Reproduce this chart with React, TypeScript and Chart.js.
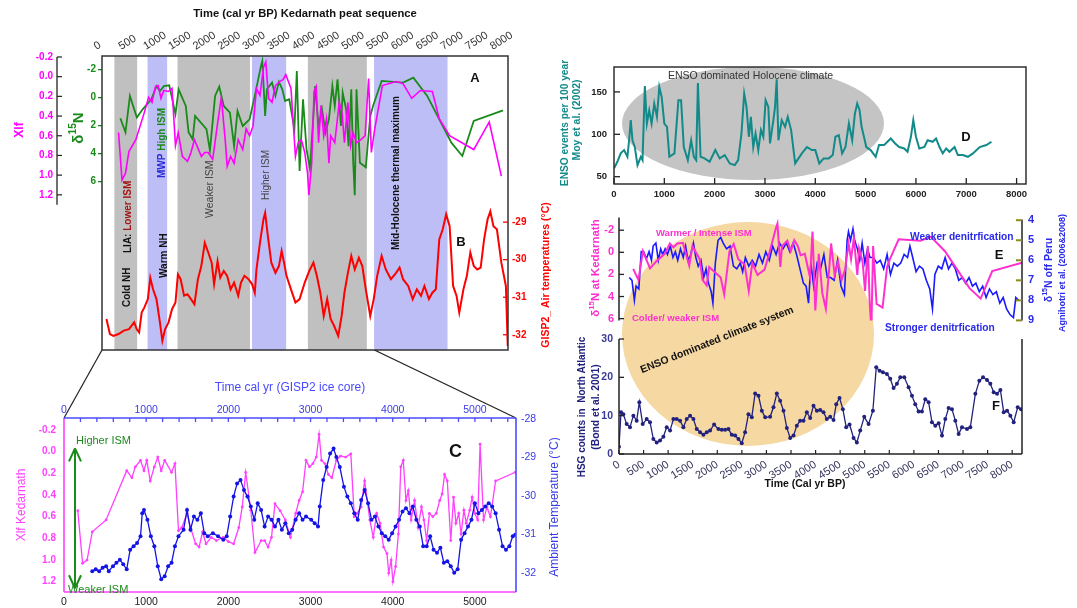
import React, { useEffect, useRef } from 'react';
import { Chart, registerables } from 'chart.js';

Chart.register(...registerables);

const FONT = '"Liberation Sans", Arial, Helvetica, sans-serif';
Chart.defaults.font.family = FONT;

// ================= DATA =================
// Panel A – Kedarnath peat δ15N (green; also pink in panel E)
const kedN_years = [370, 474, 564, 704, 821, 996, 1100, 1170, 1250, 1358, 1484, 1548, 1692, 1749, 1832, 1880, 2110, 2180, 2284, 2368, 2459, 2584, 2668, 2737, 2842, 2981, 3086, 3211, 3238, 3295, 3330, 3434, 3503, 3573, 3642, 3698, 3782, 3886, 3935, 3991, 4060, 4130, 4200, 4270, 4305, 4374, 4444, 4513, 4583, 4653, 4701, 4757, 4826, 4861, 4931, 4980, 5035, 5071, 5105, 5140, 5209, 5328, 5418, 5474, 5648, 6080, 6289, 6568, 6812, 7056, 7278, 7508, 8100];
const kedN_vals = [1.5, 2.5, -0.1, 1.45, 0.86, 0.14, -0.8, -0.45, -0.8, -0.86, 1.2, -0.57, 0.62, 2.5, 3.0, 1.33, 2.28, 3.8, -0.1, -0.76, 0.62, 1.1, 3.5, 0.98, 2.05, 1.57, -0.1, -2.24, -2.6, 1.33, -0.57, -1.05, -0.1, -1.1, -0.57, 0.26, 0.14, 2.28, -1.88, 5.26, 0.14, 3.7, 5.1, 1.33, -0.8, 2.05, 0.86, 2.52, 1.57, -0.8, 0.62, -1.28, 2.05, -0.33, 0.86, 3.5, -0.57, 4.43, 7.0, -0.57, 4.67, 5.0, 1.33, 0.62, -1.17, -1.05, -1.4, -0.1, 1.57, 3.24, 4.19, 1.69, 0.93];

// Panel A – Kedarnath Xlf (magenta)
const kedX_years = [334, 404, 474, 543, 683, 857, 940, 1010, 1080, 1135, 1191, 1247, 1344, 1414, 1484, 1539, 1623, 1727, 1797, 1867, 2006, 2075, 2145, 2236, 2319, 2410, 2493, 2528, 2598, 2668, 2751, 2842, 2911, 2981, 3051, 3120, 3190, 3260, 3308, 3364, 3434, 3503, 3587, 3656, 3712, 3817, 3907, 3963, 4026, 4095, 4151, 4179, 4235, 4283, 4325, 4374, 4423, 4478, 4534, 4583, 4618, 4701, 4792, 4847, 4896, 4966, 5021, 5071, 5140, 5230, 5314, 5384, 5440, 5509, 5662, 5940, 6080, 6255, 6429, 6672, 6812, 7021, 7508, 7821, 8066];
const kedX_vals = [0.567, 1.05, 0.98, 0.76, 0.64, 0.36, 0.21, 0.26, 0.10, 0.09, 0.22, 0.14, 0.15, 0.12, 0.70, 0.57, 0.81, 0.86, 0.77, 0.64, 0.81, 0.77, 0.77, 0.84, 0.53, 0.21, 0.67, 0.91, 0.81, 0.88, 0.64, 0.74, 0.53, 0.60, 0.50, 0.12, 0.19, -0.09, -0.15, 0.22, 0.26, 0.09, 0.05, 0.03, -0.02, 0.12, 0.81, 0.67, 0.64, 0.77, 0.98, 1.20, 0.88, 0.15, 0.10, 0.67, 0.29, 0.60, 0.43, 0.88, 0.60, 0.67, 0.26, 0.36, 0.67, 0.26, 0.70, 0.57, 0.67, 0.64, 0.60, 0.02, 0.77, 0.53, 0.09, 0.05, 0.07, 0.22, 0.14, 0.15, 0.43, 0.60, 0.74, 0.46, 1.01];

// Panel B – GISP2 air temperature
const gisB_years = [90, 160, 230, 334, 440, 545, 650, 700, 750, 801, 856, 926, 975, 1031, 1100, 1170, 1219, 1275, 1344, 1414, 1484, 1533, 1588, 1658, 1727, 1797, 1867, 1937, 2006, 2076, 2146, 2215, 2264, 2334, 2389, 2459, 2528, 2598, 2668, 2751, 2807, 2877, 2960, 3030, 3086, 3120, 3190, 3260, 3295, 3350, 3420, 3503, 3573, 3628, 3677, 3726, 3817, 3907, 3991, 4095, 4186, 4270, 4339, 4409, 4478, 4548, 4618, 4687, 4771, 4840, 4896, 4966, 5035, 5105, 5188, 5258, 5328, 5418, 5488, 5558, 5648, 5732, 5836, 5940, 6010, 6080, 6185, 6275, 6359, 6443, 6512, 6603, 6672, 6742, 6812, 6882, 6951, 7021, 7091, 7160, 7216, 7300, 7369, 7439, 7508, 7578, 7648, 7717, 7787, 7843, 7906, 7976, 8066, 8157, 8195];
const gisB_temp = [-31.58, -31.98, -32.03, -31.98, -31.89, -31.85, -31.67, -31.85, -31.94, -31.41, -31.27, -31.05, -30.48, -30.79, -31.05, -31.67, -32.16, -31.85, -31.67, -31.32, -31.14, -30.39, -30.52, -30.96, -30.92, -31.05, -31.19, -30.52, -30.17, -29.55, -29.81, -30.08, -30.65, -30.04, -30.48, -30.30, -30.43, -30.79, -30.61, -30.96, -30.61, -30.43, -30.52, -30.65, -30.88, -30.26, -29.55, -28.93, -28.75, -29.37, -30.08, -30.35, -30.17, -29.77, -30.08, -30.43, -30.79, -31.14, -31.05, -30.61, -30.30, -30.08, -30.43, -30.88, -31.50, -31.05, -31.58, -31.76, -32.03, -31.50, -30.88, -30.35, -29.90, -30.26, -29.95, -30.17, -30.79, -31.50, -31.05, -30.43, -29.90, -30.26, -30.52, -30.35, -30.21, -30.52, -30.70, -31.05, -30.79, -30.96, -30.70, -31.05, -30.88, -30.79, -29.46, -29.19, -28.79, -29.11, -30.70, -30.96, -31.41, -30.79, -30.43, -29.81, -30.17, -30.26, -30.21, -29.46, -28.93, -28.71, -29.11, -29.19, -30.08, -30.70, -32.3];

// Shaded climate intervals (cal yr BP)
const bandStart = [250, 920, 1525, 3030, 4158, 5495];
const bandEnd = [710, 1316, 2988, 3719, 5349, 6979];
const bandKind = ['gray', 'blue', 'gray', 'blue', 'gray', 'blue'];

const abYearTicks = [0, 500, 1000, 1500, 2000, 2500, 3000, 3500, 4000, 4500, 5000, 5500, 6000, 6500, 7000, 7500, 8000];
const abXlfTicks = [-0.2, 0, 0.2, 0.4, 0.6, 0.8, 1.0, 1.2];
const abD15Ticks = [-2, 0, 2, 4, 6];
const abTempTicks = [-32, -31, -30, -29];

// Panel C – Xlf Kedarnath (pink) vs GISP2 ambient temperature (blue)
const cXlf_years = [168, 226, 281, 344, 512, 763, 826, 868, 931, 973, 1007, 1049, 1099, 1141, 1183, 1225, 1309, 1350, 1393, 1434, 1497, 1539, 1602, 1644, 1686, 1728, 1791, 1854, 1938, 2000, 2064, 2127, 2169, 2211, 2273, 2324, 2399, 2441, 2483, 2525, 2567, 2630, 2693, 2756, 2819, 2861, 2903, 2945, 2987, 3029, 3070, 3104, 3133, 3175, 3217, 3259, 3314, 3364, 3427, 3490, 3532, 3565, 3616, 3658, 3721, 3763, 3804, 3846, 3888, 3930, 3951, 3981, 4002, 4035, 4069, 4098, 4128, 4161, 4190, 4224, 4266, 4308, 4350, 4379, 4413, 4446, 4488, 4530, 4572, 4601, 4631, 4664, 4706, 4740, 4769, 4803, 4832, 4866, 4895, 4937, 4966, 5000, 5034, 5063, 5105, 5147, 5189, 5252, 5491];
const cXlf_vals = [0.545, 1.03, 1.00, 0.74, 0.63, 0.175, 0.24, 0.14, 0.08, 0.175, 0.08, 0.27, 0.14, 0.05, 0.175, 0.08, 0.19, 0.11, 0.73, 0.70, 0.57, 0.70, 0.85, 0.88, 0.74, 0.85, 0.79, 0.82, 0.79, 0.83, 0.85, 0.70, 0.51, 0.19, 0.54, 0.93, 0.82, 0.82, 0.88, 0.79, 0.48, 0.545, 0.63, 0.79, 0.57, 0.45, 0.37, 0.08, 0.14, 0.11, 0.05, -0.16, 0.08, 0.11, 0.21, 0.24, 0.08, 0.04, 0.05, 0.02, 0.60, 0.57, 0.51, 0.27, 0.63, 0.79, 0.57, 0.66, 0.88, 0.94, 1.12, 1.00, 1.20, 1.06, 0.76, 0.14, 0.08, 0.45, 0.36, 0.63, 0.45, 0.70, 0.51, 0.63, 0.82, 0.57, 0.60, 0.57, 0.45, 0.39, 0.21, 0.27, 0.82, 0.42, 0.66, 0.57, 0.76, 0.54, 0.66, 0.54, 0.42, 0.57, 0.63, -0.07, 0.63, 0.51, 0.60, 0.27, 0.19];
const cTemp_years = [344, 386, 428, 470, 512, 545, 596, 638, 680, 721, 763, 805, 847, 889, 931, 952, 973, 1015, 1057, 1099, 1141, 1183, 1225, 1267, 1309, 1350, 1393, 1455, 1497, 1539, 1581, 1623, 1665, 1707, 1749, 1812, 1875, 1938, 1980, 2022, 2064, 2106, 2148, 2190, 2232, 2273, 2315, 2357, 2399, 2441, 2483, 2525, 2567, 2609, 2651, 2693, 2735, 2777, 2819, 2861, 2903, 2945, 3008, 3050, 3091, 3112, 3154, 3196, 3238, 3280, 3314, 3356, 3406, 3448, 3490, 3532, 3574, 3616, 3658, 3700, 3742, 3784, 3826, 3867, 3909, 3951, 3993, 4035, 4077, 4119, 4161, 4203, 4245, 4287, 4329, 4371, 4413, 4455, 4497, 4539, 4580, 4622, 4664, 4706, 4748, 4790, 4832, 4874, 4916, 4958, 5000, 5042, 5084, 5126, 5168, 5210, 5252, 5294, 5336, 5378, 5419, 5461, 5491];
const cTemp_vals = [-31.96, -31.91, -31.96, -31.87, -31.83, -31.96, -31.83, -31.74, -31.66, -31.78, -31.91, -31.40, -31.31, -31.23, -31.05, -30.45, -30.37, -30.62, -31.05, -31.31, -31.83, -32.17, -32.09, -31.83, -31.74, -31.31, -31.05, -30.88, -30.37, -30.88, -30.54, -30.62, -30.45, -30.97, -31.05, -30.97, -31.05, -31.14, -31.05, -30.54, -30.02, -29.68, -29.59, -29.85, -30.02, -30.28, -30.62, -30.19, -30.37, -30.80, -30.54, -30.62, -30.80, -30.62, -30.88, -30.71, -30.97, -30.88, -30.62, -30.45, -30.62, -30.54, -30.62, -30.71, -30.80, -30.28, -29.59, -29.25, -28.90, -28.77, -28.99, -29.25, -29.76, -30.02, -30.19, -30.45, -30.62, -30.11, -29.85, -30.19, -30.62, -30.54, -30.80, -30.97, -31.05, -31.14, -30.97, -30.80, -30.62, -30.41, -30.32, -30.45, -30.28, -30.62, -30.80, -31.31, -31.31, -31.05, -31.40, -31.48, -31.35, -31.74, -31.70, -31.83, -32.00, -31.91, -31.14, -30.97, -30.80, -30.62, -30.19, -30.45, -30.37, -30.28, -30.19, -30.28, -30.45, -30.88, -31.31, -31.40, -31.31, -31.05, -31.01];
const cYearTicks = [0, 1000, 2000, 3000, 4000, 5000];
const cMinorTicks = [200, 400, 600, 800, 1000, 1200, 1400, 1600, 1800, 2000, 2200, 2400, 2600, 2800, 3000, 3200, 3400, 3600, 3800, 4000, 4200, 4400, 4600, 4800, 5000, 5200, 5400];
const cXlfTicks = [-0.2, 0, 0.2, 0.4, 0.6, 0.8, 1.0, 1.2];
const cTempTicks = [-32, -31, -30, -29, -28];

// Panel D – ENSO events per 100 yr (Moy et al. 2002)
const dEnso_years = [0, 67, 133, 200, 267, 300, 333, 367, 413, 467, 533, 567, 613, 653, 700, 747, 800, 853, 900, 947, 1000, 1053, 1100, 1200, 1280, 1333, 1387, 1467, 1533, 1587, 1633, 1667, 1720, 1800, 1900, 2013, 2100, 2200, 2300, 2400, 2467, 2533, 2587, 2633, 2680, 2720, 2767, 2813, 2867, 2920, 2967, 3013, 3067, 3100, 3167, 3200, 3233, 3267, 3333, 3400, 3453, 3520, 3600, 3733, 3833, 3933, 4000, 4080, 4167, 4267, 4347, 4400, 4467, 4533, 4600, 4667, 4733, 4787, 4833, 4880, 4920, 4967, 5013, 5100, 5200, 5267, 5367, 5433, 5500, 5587, 5667, 5767, 5833, 5900, 5947, 6000, 6067, 6167, 6233, 6333, 6400, 6467, 6533, 6600, 6667, 6767, 6833, 6933, 7033, 7133, 7267, 7400, 7500];
const dEnso_vals = [59.8, 67.6, 77.5, 81.4, 73.5, 93, 116.7, 93, 85, 63.7, 73.5, 69.6, 157, 112.7, 128.4, 112.7, 136.3, 120.6, 155.9, 144, 112.7, 108.8, 73.5, 77.5, 140.2, 140.2, 85, 69.6, 93, 73.5, 69.6, 160.6, 73.5, 71.6, 67.6, 81.4, 71.6, 75.5, 65.7, 63.7, 69.6, 101, 148, 132.4, 97.1, 120.6, 85, 101, 81.4, 105, 97.1, 140.2, 132.4, 89.2, 116.7, 132.4, 165, 93, 116.7, 108.8, 120.6, 105, 65.7, 77.5, 85, 81.4, 81.4, 65.7, 71.6, 71.6, 75.5, 97.1, 99, 77.5, 85, 112.7, 93, 124.5, 136.3, 128.4, 108.8, 97.1, 85, 81.4, 73.5, 87.3, 87.3, 91.2, 95.1, 89.2, 85, 83.3, 79.4, 97.1, 116.7, 97.1, 83.3, 85, 93, 91.2, 95.1, 85, 77.5, 83.3, 79.4, 85, 75.5, 75.5, 73.5, 77.5, 85, 87.3, 91.2];
const dYearTicks = [0, 1000, 2000, 3000, 4000, 5000, 6000, 7000, 8000];
const dEnsoTicks = [50, 100, 150];

// Panel E – δ15N off Peru (Agnihotri et al.)
const ePeru_years = [292, 346, 394, 428, 482, 530, 577, 631, 686, 733, 767, 821, 869, 917, 957, 1005, 1052, 1107, 1161, 1208, 1256, 1310, 1365, 1412, 1460, 1514, 1568, 1616, 1663, 1718, 1772, 1819, 1867, 1921, 1955, 2003, 2057, 2111, 2159, 2227, 2295, 2363, 2430, 2498, 2546, 2600, 2668, 2736, 2804, 2872, 2940, 3007, 3075, 3143, 3211, 3279, 3347, 3415, 3483, 3551, 3618, 3686, 3754, 3808, 3856, 3903, 3958, 4026, 4094, 4161, 4229, 4297, 4365, 4433, 4501, 4569, 4623, 4650, 4691, 4739, 4773, 4827, 4874, 4922, 4976, 5030, 5078, 5146, 5214, 5282, 5350, 5418, 5485, 5553, 5621, 5689, 5757, 5825, 5872, 5927, 5994, 6062, 6130, 6198, 6266, 6320, 6368, 6436, 6504, 6572, 6639, 6707, 6775, 6843, 6911, 6979, 7047, 7115, 7183, 7251, 7318, 7386, 7454, 7522, 7590, 7658, 7726, 7794, 7862, 7930, 7977, 8031];
const ePeru_vals = [6.86, 7.0, 8.0, 7.29, 7.43, 5.57, 5.57, 5.93, 5.57, 6.0, 5.29, 5.14, 6.0, 5.43, 5.71, 5.43, 5.71, 5.29, 5.86, 5.57, 6.0, 5.43, 5.86, 5.29, 6.0, 5.71, 5.14, 5.86, 6.29, 6.0, 6.86, 6.43, 7.14, 7.57, 8.14, 6.14, 5.0, 4.86, 5.14, 5.43, 5.29, 6.29, 6.43, 6.14, 6.57, 5.86, 6.29, 6.0, 6.29, 5.71, 6.14, 5.57, 6.0, 5.29, 5.71, 5.14, 5.43, 5.14, 5.57, 5.14, 5.71, 6.43, 7.14, 7.29, 8.14, 6.14, 7.29, 6.14, 6.43, 5.71, 6.86, 6.86, 7.0, 6.0, 7.29, 7.71, 5.0, 4.57, 5.0, 4.43, 5.0, 5.43, 6.0, 5.14, 6.14, 5.43, 5.86, 5.86, 6.14, 6.0, 6.43, 5.71, 6.71, 6.14, 6.29, 6.14, 5.71, 5.86, 5.29, 5.86, 6.57, 6.29, 6.43, 7.0, 7.43, 8.43, 6.71, 6.29, 6.43, 5.86, 6.43, 6.14, 6.43, 7.0, 6.86, 7.14, 6.86, 7.29, 7.14, 7.57, 7.29, 7.86, 7.43, 7.71, 7.57, 8.14, 7.86, 8.43, 8.71, 8.86, 7.86, 8.0];
const eLeftTicks = [-2, 0, 2, 4, 6];
const eRightTicks = [4, 5, 6, 7, 8, 9];

// Panel F – HSG counts in North Atlantic (Bond et al. 2001)
const fBond_years = [0, 41, 88, 156, 224, 292, 360, 414, 482, 563, 631, 699, 767, 835, 903, 971, 1039, 1107, 1174, 1242, 1310, 1378, 1446, 1514, 1582, 1650, 1718, 1785, 1853, 1935, 2023, 2091, 2159, 2227, 2295, 2363, 2430, 2498, 2566, 2634, 2702, 2770, 2838, 2906, 2974, 3075, 3143, 3211, 3279, 3347, 3415, 3483, 3551, 3618, 3686, 3754, 3822, 3890, 3958, 4026, 4094, 4161, 4229, 4297, 4365, 4420, 4487, 4555, 4623, 4691, 4773, 4840, 4908, 4990, 5078, 5166, 5234, 5302, 5370, 5451, 5519, 5587, 5655, 5723, 5804, 5893, 5961, 6028, 6096, 6164, 6232, 6300, 6368, 6436, 6504, 6572, 6639, 6707, 6775, 6843, 6911, 6979, 7081, 7149, 7251, 7332, 7407, 7488, 7556, 7624, 7692, 7760, 7828, 7896, 7963, 8031, 8113, 8181];
const fBond_vals = [1.9, 10.9, 10.4, 7.8, 7.0, 10.0, 8.7, 13.5, 7.8, 9.1, 8.3, 3.9, 3.0, 3.5, 4.5, 7.0, 6.1, 9.1, 9.1, 8.7, 7.0, 9.1, 10.0, 9.1, 6.5, 5.7, 5.0, 5.7, 6.1, 7.7, 6.5, 6.3, 6.3, 6.5, 5.0, 4.8, 3.9, 2.8, 5.7, 10.4, 9.6, 15.8, 15.2, 11.3, 9.6, 9.7, 12.2, 15.8, 13.9, 11.3, 6.8, 4.2, 4.8, 7.4, 8.7, 8.7, 10.9, 9.4, 12.6, 11.3, 11.5, 10.9, 9.1, 9.7, 8.9, 13.0, 14.6, 11.7, 7.0, 7.7, 4.2, 3.0, 6.1, 9.7, 7.8, 11.3, 22.6, 21.7, 21.3, 20.9, 19.6, 17.2, 18.3, 20.0, 20.0, 17.4, 15.2, 13.0, 11.1, 11.1, 14.3, 13.5, 8.3, 7.4, 8.0, 4.8, 9.1, 12.0, 11.7, 8.7, 5.2, 7.0, 6.5, 7.0, 15.7, 19.1, 20.0, 19.3, 18.3, 16.1, 15.7, 16.7, 10.9, 11.3, 10.0, 8.3, 12.2, 11.7];
const fYearTicks = [0, 500, 1000, 1500, 2000, 2500, 3000, 3500, 4000, 4500, 5000, 5500, 6000, 6500, 7000, 7500, 8000];
const fHsgTicks = [0, 10, 20, 30];

// ================= STYLE CONSTANTS =================
const GRAY = 'rgb(192,192,192)';
const LAV = 'rgb(190,190,246)';
const GREEN = '#1a8a1a';
const MAG = '#ff00ff';
const RED = '#ff0000';
const CPINK = '#ff40ff';
const CBLUE = '#1414e6';
const TEAL = '#138a8a';
const EPINK = '#ff30d0';
const EBLUE = '#1a1aff';
const NAVY = '#22227e';
const TAN = 'rgb(246,216,162)';
const UP = -Math.PI / 2;

const reg: any = {};

// ================= HELPERS =================
const pts = (xs: number[], ys: number[]) => xs.map((x, i) => ({ x, y: ys[i] }));
const ticksAt = (vals: number[]) => (scale: any) => { scale.ticks = vals.map((v) => ({ value: v })); };
const fixSize = (n: number) => (scale: any) => { if (scale.isHorizontal()) scale.height = n; else scale.width = n; };

type Seg = { t: string; c: string; sup?: boolean };

function rich(ctx: any, segs: Seg[], x: number, y: number, rot: number, align: string, size: number, weight = 'bold') {
  ctx.save();
  ctx.translate(x, y);
  ctx.rotate(rot);
  ctx.textBaseline = 'middle';
  ctx.textAlign = 'left';
  const f = (s: Seg) => `${weight} ${s.sup ? size * 0.68 : size}px ${FONT}`;
  let w = 0;
  for (const s of segs) { ctx.font = f(s); w += ctx.measureText(s.t).width; }
  let cx = align === 'center' ? -w / 2 : 0;
  for (const s of segs) {
    ctx.font = f(s);
    ctx.fillStyle = s.c;
    ctx.fillText(s.t, cx, s.sup ? -size * 0.38 : 0);
    cx += ctx.measureText(s.t).width;
  }
  ctx.restore();
}

function line(ctx: any, x1: number, y1: number, x2: number, y2: number, color: string, w: number) {
  ctx.strokeStyle = color;
  ctx.lineWidth = w;
  ctx.beginPath();
  ctx.moveTo(x1, y1);
  ctx.lineTo(x2, y2);
  ctx.stroke();
}

function baseOpts(padding: any) {
  return {
    responsive: false,
    maintainAspectRatio: false,
    animation: false,
    events: [],
    devicePixelRatio: 1,
    layout: { padding },
    plugins: { legend: { display: false }, tooltip: { enabled: false }, title: { display: false } },
    elements: { point: { radius: 0 }, line: { tension: 0 } },
  };
}

function lin(o: any) {
  return {
    type: 'linear',
    grid: { display: false, drawTicks: false },
    border: { display: false },
    title: { display: false },
    ...o,
    ticks: { autoSkip: false, ...(o.ticks || {}) },
  };
}

// ================= PANEL A/B =================
const abPlugin = {
  id: 'abDeco',
  beforeDatasetsDraw(chart: any) {
    const { ctx, chartArea: a } = chart;
    const sx = chart.scales.x;
    ctx.save();
    for (let i = 0; i < bandStart.length; i++) {
      const x0 = sx.getPixelForValue(bandStart[i]);
      const x1 = sx.getPixelForValue(bandEnd[i]);
      ctx.fillStyle = bandKind[i] === 'gray' ? GRAY : LAV;
      ctx.fillRect(x0, a.top, x1 - x0, a.bottom - a.top);
    }
    rich(ctx, [{ t: 'Cold NH', c: '#111' }], 127, 307, UP, 'start', 10);
    rich(ctx, [{ t: 'LIA: ', c: '#111' }, { t: 'Lower ISM', c: '#a31515' }], 128, 253, UP, 'start', 10);
    rich(ctx, [{ t: 'MWP ', c: '#2b2bd9' }, { t: 'High ISM', c: GREEN }], 162, 178, UP, 'start', 10);
    rich(ctx, [{ t: 'Warm NH', c: '#111' }], 164, 278, UP, 'start', 10);
    rich(ctx, [{ t: 'Weaker ISM', c: '#444' }], 210, 218, UP, 'start', 10.5, 'normal');
    rich(ctx, [{ t: 'Higher ISM', c: '#444' }], 266, 200, UP, 'start', 10, 'normal');
    rich(ctx, [{ t: 'Mid-Holocene thermal maximum', c: '#111' }], 396, 250, UP, 'start', 10);
    ctx.restore();
  },
  afterDraw(chart: any) {
    const { ctx, chartArea: a, scales } = chart;
    ctx.save();
    ctx.strokeStyle = '#333';
    ctx.lineWidth = 1.5;
    ctx.strokeRect(a.left, a.top, a.right - a.left, a.bottom - a.top);
    // Xlf axis (partial)
    const yX = scales.yX;
    const lx = yX.right;
    line(ctx, lx, yX.getPixelForValue(-0.2), lx, yX.getPixelForValue(1.3), '#222', 1.3);
    for (const v of abXlfTicks) { const y = yX.getPixelForValue(v); line(ctx, lx, y, lx + 5, y, '#222', 1.2); }
    // red inward ticks
    const yT = scales.yT;
    for (const v of abTempTicks) { const y = yT.getPixelForValue(v); line(ctx, a.right - 5, y, a.right, y, RED, 1.3); }
    // titles
    ctx.fillStyle = '#111';
    ctx.font = `bold 11.2px ${FONT}`;
    ctx.textAlign = 'center';
    ctx.textBaseline = 'middle';
    ctx.fillText('Time (cal yr BP) Kedarnath peat sequence', (a.left + a.right) / 2, 14);
    rich(ctx, [{ t: 'Xlf', c: MAG }], 20, 130, UP, 'center', 12);
    rich(ctx, [{ t: '\u03b4', c: GREEN }, { t: '15', c: GREEN, sup: true }, { t: 'N', c: GREEN }], 79, 128, UP, 'center', 15);
    rich(ctx, [{ t: 'GISP2_ Air temperatures (\u00b0C)', c: RED }], 546, 275, UP, 'center', 10.5);
    ctx.fillStyle = '#111';
    ctx.font = `bold 13px ${FONT}`;
    ctx.fillText('A', 475, 78);
    ctx.fillText('B', 461, 242);
    ctx.restore();
  },
};

function abConfig() {
  return {
    type: 'line',
    data: {
      datasets: [
        { data: pts(kedX_years, kedX_vals), yAxisID: 'yX', borderColor: MAG, borderWidth: 1.6, pointRadius: 0 },
        { data: pts(kedN_years, kedN_vals), yAxisID: 'yN', borderColor: GREEN, borderWidth: 1.8, pointRadius: 0 },
        { data: pts(gisB_years, gisB_temp), yAxisID: 'yT', borderColor: RED, borderWidth: 2, pointRadius: 0 },
      ],
    },
    options: {
      ...baseOpts({ left: 0, right: 0, top: 0, bottom: 9 }),
      scales: {
        x: lin({
          position: 'top', min: 0, max: 8200, afterBuildTicks: ticksAt(abYearTicks), afterFit: fixSize(56),
          ticks: { minRotation: 32, maxRotation: 32, color: '#333', font: { size: 11 }, padding: 3, callback: (v: any) => String(v) },
        }),
        yX: lin({
          position: 'left', weight: 2, reverse: true, min: -0.21, max: 2.776, afterBuildTicks: ticksAt(abXlfTicks), afterFit: fixSize(57),
          ticks: { color: MAG, font: { size: 10, weight: 'bold' }, padding: 4, callback: (v: any) => Number(v).toFixed(1) },
        }),
        yN: lin({
          position: 'left', weight: 1, reverse: true, min: -2.95, max: 18.05, afterBuildTicks: ticksAt(abD15Ticks), afterFit: fixSize(45),
          grid: { display: true, drawOnChartArea: false, drawTicks: true, tickLength: 4, color: GREEN, lineWidth: 1.3 },
          ticks: { color: GREEN, font: { size: 10, weight: 'bold' }, padding: 2, callback: (v: any) => String(v) },
        }),
        yT: lin({
          position: 'right', min: -32.406, max: -24.575, afterBuildTicks: ticksAt(abTempTicks), afterFit: fixSize(52),
          ticks: { color: RED, font: { size: 10, weight: 'bold' }, padding: 4, callback: (v: any) => String(v) },
        }),
      },
    },
    plugins: [abPlugin],
  };
}

// ================= PANEL C =================
const C_TOP = 350;
const cPlugin = {
  id: 'cDeco',
  afterDraw(chart: any) {
    const { ctx, chartArea: a, scales } = chart;
    ctx.save();
    // connectors from the A/B time axis
    const ab = reg.ab;
    const yb = ab ? ab.chartArea.bottom - C_TOP : 1;
    const x0 = ab ? ab.scales.x.getPixelForValue(0) : 102;
    const x1 = ab ? ab.scales.x.getPixelForValue(5500) : 374;
    line(ctx, x0, yb, a.left, a.top, '#222', 1.2);
    line(ctx, x1, yb, a.right, a.top, '#222', 1.2);
    // frame
    line(ctx, a.left, a.top, a.left, a.bottom, CPINK, 1.6);
    line(ctx, a.left, a.bottom, a.right, a.bottom, CPINK, 1.6);
    line(ctx, a.left, a.top, a.right, a.top, '#4a4aff', 1.6);
    line(ctx, a.right, a.top, a.right, a.bottom, '#4a4aff', 1.6);
    const sx = scales.x2;
    for (const v of cMinorTicks) { const x = sx.getPixelForValue(v); line(ctx, x, a.top, x, a.top + 4, '#4a4aff', 1.3); }
    // double arrow
    const yL = scales.yL;
    const ax = a.left + 11;
    const ya = yL.getPixelForValue(-0.03);
    const yz = yL.getPixelForValue(1.26);
    line(ctx, ax, ya, ax, yz, GREEN, 2);
    line(ctx, ax, ya, ax - 6, ya + 13, GREEN, 2);
    line(ctx, ax, ya, ax + 6, ya + 13, GREEN, 2);
    line(ctx, ax, yz, ax - 6, yz - 13, GREEN, 2);
    line(ctx, ax, yz, ax + 6, yz - 13, GREEN, 2);
    ctx.font = `11px ${FONT}`;
    ctx.textBaseline = 'middle';
    ctx.textAlign = 'left';
    ctx.fillStyle = GREEN;
    ctx.fillText('Higher ISM', ax + 1, ya - 7);
    ctx.fillText('Weaker ISM', ax - 7, yz + 2);
    ctx.fillStyle = '#111';
    ctx.font = `bold 18px ${FONT}`;
    ctx.fillText('C', 449, 452 - C_TOP);
    // titles
    ctx.fillStyle = '#4a4aff';
    ctx.font = `12px ${FONT}`;
    ctx.textAlign = 'center';
    ctx.fillText('Time cal yr (GISP2 ice core)', (a.left + a.right) / 2, 388 - C_TOP);
    rich(ctx, [{ t: 'Xlf Kedarnath', c: CPINK }], 22, 505 - C_TOP, UP, 'center', 12, 'normal');
    rich(ctx, [{ t: 'Ambient Temperature (\u00b0C)', c: '#3a3ae6' }], 555, 507 - C_TOP, UP, 'center', 12, 'normal');
    ctx.restore();
  },
};

function cConfig() {
  return {
    type: 'line',
    data: {
      datasets: [
        { data: pts(cTemp_years, cTemp_vals), yAxisID: 'yR', borderColor: CBLUE, borderWidth: 1.3, pointRadius: 2, pointBackgroundColor: CBLUE, pointBorderWidth: 0 },
        { data: pts(cXlf_years, cXlf_vals), yAxisID: 'yL', borderColor: CPINK, borderWidth: 1.3, pointRadius: 1.4, pointBackgroundColor: CPINK, pointBorderWidth: 0 },
      ],
    },
    options: {
      ...baseOpts({ left: 0, right: 0, top: 0, bottom: 0 }),
      scales: {
        x: lin({
          position: 'bottom', min: 0, max: 5500, afterBuildTicks: ticksAt(cYearTicks), afterFit: fixSize(16),
          ticks: { maxRotation: 0, minRotation: 0, color: '#222', font: { size: 10.5 }, padding: 4, callback: (v: any) => String(v) },
        }),
        x2: lin({
          position: 'top', min: 0, max: 5500, afterBuildTicks: ticksAt(cYearTicks), afterFit: fixSize(68),
          ticks: { maxRotation: 0, minRotation: 0, color: '#3a3ae6', font: { size: 10.5 }, padding: 2, callback: (v: any) => String(v) },
        }),
        yL: lin({
          position: 'left', reverse: true, min: -0.311, max: 1.295, afterBuildTicks: ticksAt(cXlfTicks), afterFit: fixSize(64),
          ticks: { color: CPINK, font: { size: 10, weight: 'bold' }, padding: 8, callback: (v: any) => Number(v).toFixed(1) },
        }),
        yR: lin({
          position: 'right', min: -32.502, max: -27.974, afterBuildTicks: ticksAt(cTempTicks), afterFit: fixSize(44),
          ticks: { color: '#3a3ae6', font: { size: 10.5 }, padding: 5, callback: (v: any) => String(v) },
        }),
      },
    },
    plugins: [cPlugin],
  };
}

// ================= PANEL D =================
const D_LEFT = 560, D_TOP = 40;
const dPlugin = {
  id: 'dDeco',
  beforeDatasetsDraw(chart: any) {
    const { ctx } = chart;
    ctx.save();
    ctx.fillStyle = '#c4c4c4';
    ctx.beginPath();
    ctx.ellipse(753 - D_LEFT, 123.5 - D_TOP, 131, 56.5, 0, 0, Math.PI * 2);
    ctx.fill();
    ctx.fillStyle = '#333';
    ctx.font = `10.5px ${FONT}`;
    ctx.textAlign = 'left';
    ctx.textBaseline = 'middle';
    ctx.fillText('ENSO dominated Holocene climate', 668 - D_LEFT, 76 - D_TOP);
    ctx.restore();
  },
  afterDraw(chart: any) {
    const { ctx, chartArea: a, scales } = chart;
    ctx.save();
    ctx.strokeStyle = '#222';
    ctx.lineWidth = 1.4;
    ctx.strokeRect(a.left, a.top, a.right - a.left, a.bottom - a.top);
    for (const v of dYearTicks) { const x = scales.x.getPixelForValue(v); line(ctx, x, a.bottom, x, a.bottom - 6, '#222', 1.3); }
    for (const v of dEnsoTicks) { const y = scales.y.getPixelForValue(v); line(ctx, a.left, y, a.left + 6, y, '#222', 1.3); }
    ctx.fillStyle = '#111';
    ctx.font = `bold 13px ${FONT}`;
    ctx.textAlign = 'center';
    ctx.textBaseline = 'middle';
    ctx.fillText('D', 966 - D_LEFT, 137 - D_TOP);
    rich(ctx, [{ t: 'ENSO events per 100 year', c: TEAL }], 565 - D_LEFT, 123 - D_TOP, UP, 'center', 10.2);
    rich(ctx, [{ t: 'Moy et al. (2002)', c: TEAL }], 577 - D_LEFT, 120 - D_TOP, UP, 'center', 10.5);
    ctx.restore();
  },
};

function dConfig() {
  return {
    type: 'line',
    data: { datasets: [{ data: pts(dEnso_years, dEnso_vals), borderColor: TEAL, borderWidth: 2, pointRadius: 0 }] },
    options: {
      ...baseOpts({ left: 0, right: 51, top: 27, bottom: 0 }),
      scales: {
        x: lin({
          position: 'bottom', min: 0, max: 8187, afterBuildTicks: ticksAt(dYearTicks), afterFit: fixSize(21),
          ticks: { maxRotation: 0, minRotation: 0, color: '#222', font: { size: 9.5, weight: 'bold' }, padding: 5, callback: (v: any) => String(v) },
        }),
        y: lin({
          position: 'left', min: 41.4, max: 179.4, afterBuildTicks: ticksAt(dEnsoTicks), afterFit: fixSize(54),
          ticks: { color: '#222', font: { size: 9.5, weight: 'bold' }, padding: 7, callback: (v: any) => String(v) },
        }),
      },
    },
    plugins: [dPlugin],
  };
}

// ================= PANEL E =================
const E_LEFT = 560, E_TOP = 205;
const CIRC_X = 748, CIRC_Y = 334, CIRC_RX = 126, CIRC_RY = 112;
const ePlugin = {
  id: 'eDeco',
  beforeDraw(chart: any) {
    const { ctx } = chart;
    ctx.save();
    ctx.fillStyle = TAN;
    ctx.beginPath();
    ctx.ellipse(CIRC_X - E_LEFT, CIRC_Y - E_TOP, CIRC_RX, CIRC_RY, 0, 0, Math.PI * 2);
    ctx.fill();
    ctx.restore();
  },
  afterDraw(chart: any) {
    const { ctx, chartArea: a, scales } = chart;
    ctx.save();
    line(ctx, a.left, a.top, a.left, a.bottom, '#222', 1.5);
    line(ctx, a.right, a.top + 2, a.right, a.bottom, '#222', 1.5);
    for (const v of eLeftTicks) { const y = scales.yL.getPixelForValue(v); line(ctx, a.left, y, a.left + 5, y, '#222', 1.3); }
    for (const v of eRightTicks) { const y = scales.yR.getPixelForValue(v); line(ctx, a.right - 6, y, a.right, y, '#8c8c1e', 2); }
    ctx.textAlign = 'left';
    ctx.textBaseline = 'middle';
    ctx.fillStyle = EPINK;
    ctx.font = `bold 9.5px ${FONT}`;
    ctx.fillText('Warmer / Intense ISM', 656 - E_LEFT, 233 - E_TOP);
    ctx.fillText('Colder/ weaker ISM', 632 - E_LEFT, 318 - E_TOP);
    ctx.fillStyle = '#2a2ae8';
    ctx.font = `bold 10.2px ${FONT}`;
    ctx.fillText('Weaker denitrfication', 910 - E_LEFT, 237 - E_TOP);
    ctx.fillText('Stronger denitrfication', 885 - E_LEFT, 328 - E_TOP);
    ctx.fillStyle = '#111';
    ctx.font = `bold 13px ${FONT}`;
    ctx.textAlign = 'center';
    ctx.fillText('E', 999 - E_LEFT, 255 - E_TOP);
    rich(ctx, [{ t: '\u03b4', c: EPINK }, { t: '15', c: EPINK, sup: true }, { t: 'N at Kedarnath', c: EPINK }], 596 - E_LEFT, 268 - E_TOP, UP, 'center', 11.5);
    rich(ctx, [{ t: '\u03b4', c: '#2a2ae8' }, { t: '15', c: '#2a2ae8', sup: true }, { t: 'N off Peru', c: '#2a2ae8' }], 1049 - E_LEFT, 270 - E_TOP, UP, 'center', 10.5);
    rich(ctx, [{ t: 'Agnihotri et al. (2006&2008)', c: '#2a2ae8' }], 1063 - E_LEFT, 273 - E_TOP, UP, 'center', 9);
    ctx.restore();
  },
};

function eConfig() {
  return {
    type: 'line',
    data: {
      datasets: [
        { data: pts(kedN_years, kedN_vals), yAxisID: 'yL', borderColor: EPINK, borderWidth: 2, pointRadius: 0 },
        { data: pts(ePeru_years, ePeru_vals), yAxisID: 'yR', borderColor: EBLUE, borderWidth: 1.6, pointRadius: 0 },
      ],
    },
    options: {
      ...baseOpts({ left: 0, right: 0, top: 8, bottom: 2 }),
      scales: {
        x: { type: 'linear', display: false, min: 88, max: 8100 },
        yL: lin({
          position: 'left', reverse: true, min: -3.14, max: 6.16, afterBuildTicks: ticksAt(eLeftTicks), afterFit: fixSize(59),
          ticks: { color: EPINK, font: { size: 11, weight: 'bold' }, padding: 5, callback: (v: any) => String(v) },
        }),
        yR: lin({
          position: 'right', reverse: true, min: 3.87, max: 9.0, afterBuildTicks: ticksAt(eRightTicks), afterFit: fixSize(55),
          ticks: { color: '#2a2ae8', font: { size: 11, weight: 'bold' }, padding: 6, callback: (v: any) => String(v) },
        }),
      },
    },
    plugins: [ePlugin],
  };
}

// ================= PANEL F =================
const F_LEFT = 560, F_TOP = 300, SPLIT_Y = 333;
const fPlugin = {
  id: 'fDeco',
  beforeDraw(chart: any) {
    const { ctx, width, height } = chart;
    ctx.save();
    ctx.beginPath();
    ctx.rect(0, SPLIT_Y - F_TOP, width, height);
    ctx.clip();
    ctx.fillStyle = TAN;
    ctx.beginPath();
    ctx.ellipse(CIRC_X - F_LEFT, CIRC_Y - F_TOP, CIRC_RX, CIRC_RY, 0, 0, Math.PI * 2);
    ctx.fill();
    ctx.restore();
  },
  afterDraw(chart: any) {
    const { ctx, chartArea: a, scales } = chart;
    ctx.save();
    line(ctx, a.left, a.top, a.left, a.bottom, '#222', 1.5);
    line(ctx, a.left, a.bottom, a.right, a.bottom, '#222', 1.5);
    line(ctx, a.right, a.top, a.right, a.bottom, '#222', 1.5);
    for (const v of fHsgTicks) { const y = scales.y.getPixelForValue(v); line(ctx, a.left, y, a.left + 5, y, '#222', 1.3); }
    for (const v of fYearTicks) { const x = scales.x.getPixelForValue(v); line(ctx, x, a.bottom, x, a.bottom - 4, '#222', 1.2); }
    ctx.fillStyle = '#111';
    ctx.font = `bold 13px ${FONT}`;
    ctx.textAlign = 'center';
    ctx.textBaseline = 'middle';
    ctx.fillText('F', 996 - F_LEFT, 406 - F_TOP);
    ctx.font = `bold 10.5px ${FONT}`;
    ctx.fillText('Time (Cal yr BP)', 805 - F_LEFT, 484 - F_TOP);
    // rotated annotation across E/F
    ctx.save();
    ctx.translate(717 - F_LEFT, 340 - F_TOP);
    ctx.rotate(-21.8 * Math.PI / 180);
    ctx.font = `bold 10.5px ${FONT}`;
    ctx.fillStyle = '#111';
    ctx.fillText('ENSO dominated climate system', 0, 0);
    ctx.restore();
    rich(ctx, [{ t: 'HSG counts in  North Atlantic', c: NAVY }], 582 - F_LEFT, 407 - F_TOP, UP, 'center', 10);
    rich(ctx, [{ t: '(Bond et al. 2001)', c: NAVY }], 596 - F_LEFT, 407 - F_TOP, UP, 'center', 10.3);
    ctx.restore();
  },
};

function fConfig() {
  return {
    type: 'line',
    data: {
      datasets: [
        { data: pts(fBond_years, fBond_vals), borderColor: NAVY, borderWidth: 1.3, pointRadius: 2, pointBackgroundColor: NAVY, pointBorderWidth: 0 },
      ],
    },
    options: {
      ...baseOpts({ left: 0, right: 55, top: 39, bottom: 0 }),
      scales: {
        x: lin({
          position: 'bottom', min: 0, max: 8200, afterBuildTicks: ticksAt(fYearTicks), afterFit: fixSize(46),
          ticks: { minRotation: 32, maxRotation: 32, color: '#33335a', font: { size: 11 }, padding: 4, callback: (v: any) => String(v) },
        }),
        y: lin({
          position: 'left', min: 0, max: 30, afterBuildTicks: ticksAt(fHsgTicks), afterFit: fixSize(59),
          ticks: { color: '#3a3a96', font: { size: 10.5, weight: 'bold' }, padding: 6, callback: (v: any) => String(v) },
        }),
      },
    },
    plugins: [fPlugin],
  };
}

// ================= APP =================
const cv = (left: number, top: number, w: number, h: number): any => ({ position: 'absolute', left, top, width: w, height: h });

export default function App() {
  const abRef = useRef<HTMLCanvasElement>(null);
  const cRef = useRef<HTMLCanvasElement>(null);
  const dRef = useRef<HTMLCanvasElement>(null);
  const eRef = useRef<HTMLCanvasElement>(null);
  const fRef = useRef<HTMLCanvasElement>(null);

  useEffect(() => {
    const charts: any[] = [];
    reg.ab = new Chart(abRef.current as any, abConfig() as any);
    charts.push(reg.ab);
    charts.push(new Chart(cRef.current as any, cConfig() as any));
    charts.push(new Chart(dRef.current as any, dConfig() as any));
    charts.push(new Chart(eRef.current as any, eConfig() as any));
    charts.push(new Chart(fRef.current as any, fConfig() as any));
    return () => {
      charts.forEach((c) => c.destroy());
      reg.ab = null;
    };
  }, []);

  return (
    <div style={{ position: 'absolute', left: 0, top: 0, width: 1077, height: 608, background: '#fff', overflow: 'hidden' }}>
      <canvas ref={abRef} width={560} height={360} style={cv(0, 0, 560, 360)} />
      <canvas ref={cRef} width={560} height={258} style={cv(0, C_TOP, 560, 258)} />
      <canvas ref={dRef} width={517} height={165} style={cv(D_LEFT, D_TOP, 517, 165)} />
      <canvas ref={eRef} width={517} height={128} style={cv(E_LEFT, E_TOP, 517, 128)} />
      <canvas ref={fRef} width={517} height={200} style={cv(F_LEFT, F_TOP, 517, 200)} />
    </div>
  );
}
